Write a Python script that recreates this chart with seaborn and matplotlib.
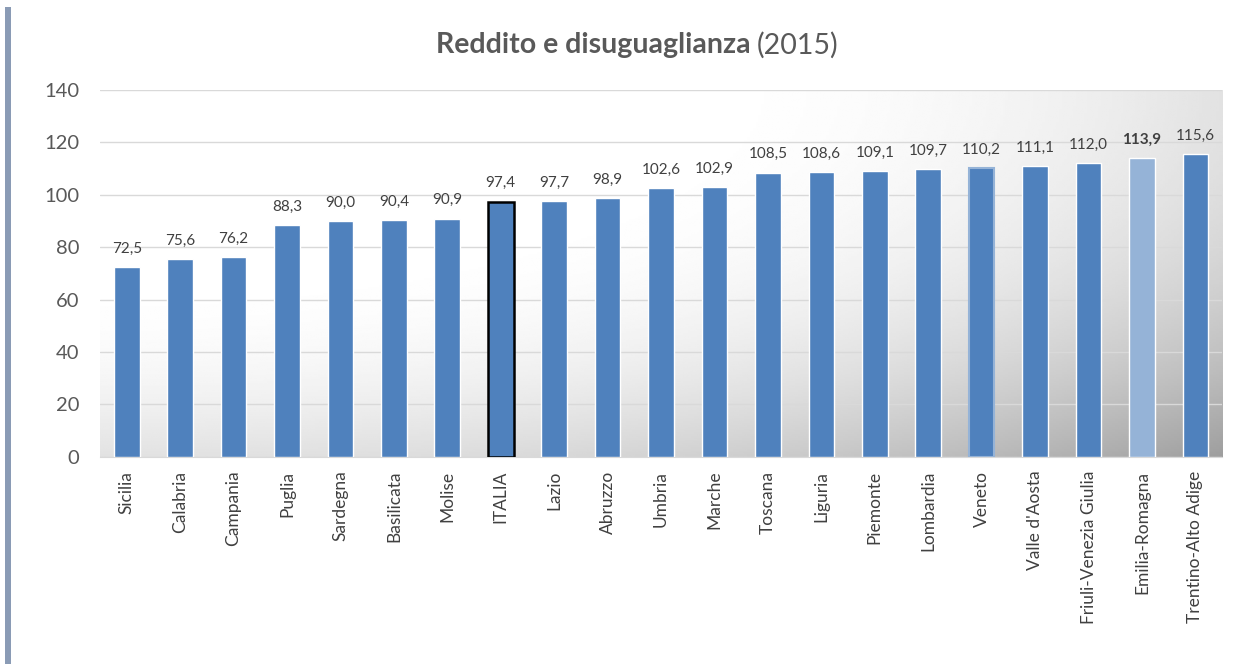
import numpy as np
import pandas as pd
import matplotlib
matplotlib.use('Agg')
import matplotlib.pyplot as plt
import seaborn as sns

regions = ['Sicilia', 'Calabria', 'Campania', 'Puglia', 'Sardegna', 'Basilicata', 'Molise',
           'ITALIA', 'Lazio', 'Abruzzo', 'Umbria', 'Marche', 'Toscana', 'Liguria', 'Piemonte',
           'Lombardia', 'Veneto', "Valle d'Aosta", 'Friuli-Venezia Giulia', 'Emilia-Romagna',
           'Trentino-Alto Adige']
values = [72.5, 75.6, 76.2, 88.3, 90.0, 90.4, 90.9, 97.4, 97.7, 98.9, 102.6, 102.9,
          108.5, 108.6, 109.1, 109.7, 110.2, 111.1, 112.0, 113.9, 115.6]
y_ticks = [0, 20, 40, 60, 80, 100, 120, 140]

main_blue = '#4f81bd'
light_blue = '#95b3d7'
colors = [light_blue if r == 'Emilia-Romagna' else main_blue for r in regions]

df = pd.DataFrame({'region': regions, 'value': values})

sns.set_style('white')
plt.rcParams['font.family'] = ['Lato', 'DejaVu Sans']

fig = plt.figure(figsize=(12.42, 6.64), dpi=100)
ax = fig.add_axes([0.0805, 0.312, 0.9035, 0.5525])

# gradient background: white top-left, gray towards bottom-right
gx, gy = np.meshgrid(np.linspace(0, 1, 400), np.linspace(0, 1, 200))
d = np.sqrt(gx ** 2 + gy ** 2)
shade = np.clip((d - 0.5) / (1.414 - 0.5), 0, 1) ** 2.0
gray = 1 - 0.38 * shade
ax.imshow(gray, cmap='gray', vmin=0, vmax=1, extent=[-0.5, len(regions) - 0.5, 0, 140],
          origin='upper', aspect='auto', zorder=0, interpolation='bilinear')

sns.barplot(data=df, x='region', y='value', hue='region', palette=colors, legend=False,
            width=0.48, saturation=1, ax=ax, zorder=3)

for patch, r in zip(ax.patches, regions):
    if r == 'ITALIA':
        patch.set_edgecolor('black')
        patch.set_linewidth(1.8)
    elif r == 'Veneto':
        patch.set_edgecolor(light_blue)
        patch.set_linewidth(1.5)

for patch, r, v in zip(ax.patches, regions, values):
    lbl = f'{v:.1f}'.replace('.', ',')
    ax.text(patch.get_x() + patch.get_width() / 2, v + 4.3, lbl, ha='center', va='bottom',
            fontsize=11, color='#404040',
            fontweight='bold' if r == 'Emilia-Romagna' else 'normal', zorder=4)

ax.set_xlim(-0.5, len(regions) - 0.5)
ax.set_ylim(0, 140)
ax.set_yticks(y_ticks)
ax.set_yticklabels([str(t) for t in y_ticks], fontsize=14.5, color='#595959')
ax.tick_params(axis='y', length=0, pad=15)
ax.tick_params(axis='x', length=0, pad=10)
ax.set_xticks(range(len(regions)))
ax.set_xticklabels(regions, rotation=90, fontsize=12.5, color='#404040')
ax.grid(axis='y', color='#d9d9d9', linewidth=1, zorder=1)
ax.set_axisbelow(True)
ax.set_xlabel('')
ax.set_ylabel('')
for s in ['top', 'right', 'left']:
    ax.spines[s].set_visible(False)
ax.spines['bottom'].set_color('#d9d9d9')

fig.text(0.604, 0.932, 'Reddito e disuguaglianza', ha='right', va='center', fontsize=20.5,
         fontweight='bold', color='#595959')
fig.text(0.609, 0.932, '(2015)', ha='left', va='center', fontsize=20.5, color='#595959')

# left border stripe
fig.add_artist(plt.Rectangle((0.004, 0.0), 0.005, 0.99, transform=fig.transFigure,
                             color='#8a9bb5', lw=0))

fig.savefig('out.png', dpi=100)
